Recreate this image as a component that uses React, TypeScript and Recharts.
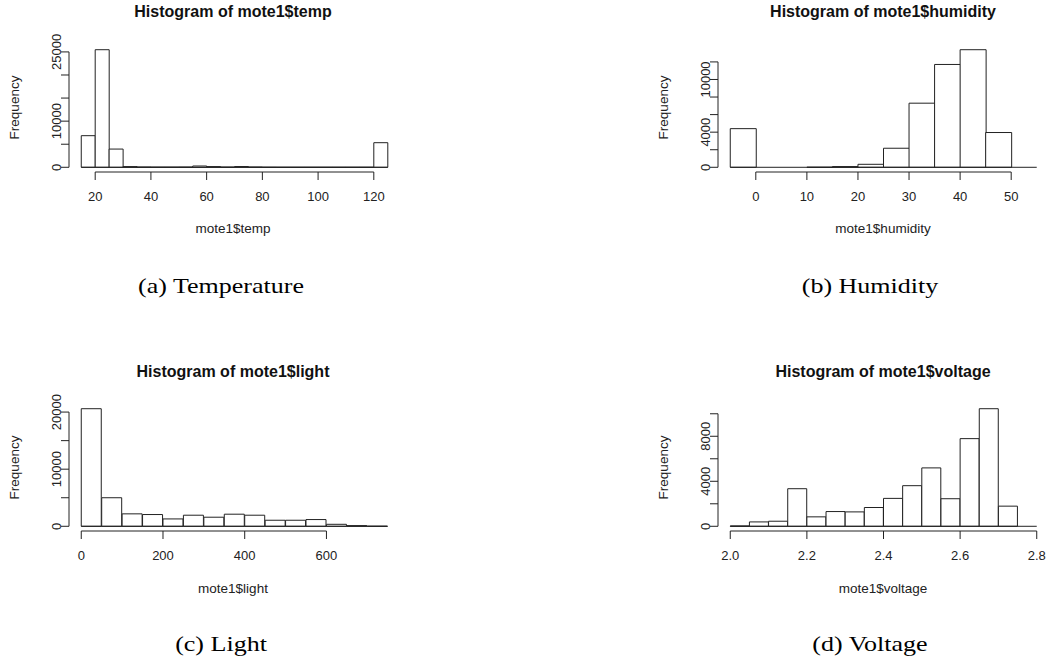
import { BarChart, Bar, XAxis, YAxis, ReferenceLine } from "recharts";

const INK = "#222";
const SANS = "'Liberation Sans', Arial, sans-serif";
const SERIF = "'Liberation Serif', 'Times New Roman', serif";

// (a) temperature, bins of 5 from 15 to 125
const tempMids = [17.5, 22.5, 27.5, 32.5, 37.5, 42.5, 47.5, 52.5, 57.5, 62.5, 67.5, 72.5, 77.5, 82.5, 87.5, 92.5, 97.5, 102.5, 107.5, 112.5, 117.5, 122.5];
const tempCounts = [6850, 25480, 3950, 150, 60, 40, 40, 50, 280, 150, 50, 160, 60, 20, 10, 10, 10, 10, 10, 10, 10, 5330];
const tempRange: [number, number] = [15, 125];
const tempXTicks = [20, 40, 60, 80, 100, 120];
const tempXLabels = ["20", "40", "60", "80", "100", "120"];
const tempYTicks = [0, 5000, 10000, 15000, 20000, 25000];
const tempYLabels = [0, 10000, 25000];

// (b) humidity, bins of 5 from -5 to 55
const humMids = [-2.5, 2.5, 7.5, 12.5, 17.5, 22.5, 27.5, 32.5, 37.5, 42.5, 47.5, 52.5];
const humCounts = [4400, 0, 0, 10, 80, 340, 2170, 7300, 11710, 13390, 3960, 0];
const humRange: [number, number] = [-5, 55];
const humXTicks = [0, 10, 20, 30, 40, 50];
const humXLabels = ["0", "10", "20", "30", "40", "50"];
const humYTicks = [0, 2000, 4000, 6000, 8000, 10000, 12000];
const humYLabels = [0, 4000, 10000];

// (c) light, bins of 50 from 0 to 750
const lightMids = [25, 75, 125, 175, 225, 275, 325, 375, 425, 475, 525, 575, 625, 675, 725];
const lightCounts = [20590, 5000, 2180, 2060, 1290, 1940, 1590, 2120, 1940, 1060, 1060, 1180, 350, 120, 10];
const lightRange: [number, number] = [0, 750];
const lightXTicks = [0, 200, 400, 600];
const lightXLabels = ["0", "200", "400", "600"];
const lightYTicks = [0, 5000, 10000, 15000, 20000];
const lightYLabels = [0, 10000, 20000];

// (d) voltage, bins of 0.05 from 2.0 to 2.8
const voltMids = [2.025, 2.075, 2.125, 2.175, 2.225, 2.275, 2.325, 2.375, 2.425, 2.475, 2.525, 2.575, 2.625, 2.675, 2.725, 2.775];
const voltCounts = [30, 390, 450, 3340, 840, 1310, 1280, 1670, 2480, 3610, 5190, 2450, 7790, 10450, 1790, 0];
const voltRange: [number, number] = [2.0, 2.8];
const voltXTicks = [2.0, 2.2, 2.4, 2.6, 2.8];
const voltXLabels = ["2.0", "2.2", "2.4", "2.6", "2.8"];
const voltYTicks = [0, 2000, 4000, 6000, 8000, 10000];
const voltYLabels = [0, 4000, 8000];

const titles = ["Histogram of mote1$temp", "Histogram of mote1$humidity", "Histogram of mote1$light", "Histogram of mote1$voltage"];
const xTitles = ["mote1$temp", "mote1$humidity", "mote1$light", "mote1$voltage"];
const captions = ["(a) Temperature", "(b) Humidity", "(c) Light", "(d) Voltage"];

type HistProps = {
  mids: number[];
  counts: number[];
  range: [number, number];
  xTicks: number[];
  xLabels: string[];
  yTicks: number[];
  yLabels: number[];
  left: number;
  top: number;
};

function Hist({ mids, counts, range, xTicks, xLabels, yTicks, yLabels, left, top }: HistProps) {
  const data = mids.map((m, i) => ({ mid: m, count: counts[i] }));
  const pad = (range[1] - range[0]) * 0.04;
  const xDom = [range[0] - pad, range[1] + pad];
  const yMax = Math.max(...counts);
  const yDom = [-0.04 * yMax, yMax * 1.04];
  const lastY = yTicks[yTicks.length - 1];

  return (
    <div style={{ position: "absolute", left, top }}>
      <BarChart
        width={410}
        height={215}
        data={data}
        margin={{ top: 45, right: 10, left: 0, bottom: 0 }}
        barCategoryGap={0}
        barGap={0}
      >
        <XAxis
          type="number"
          dataKey="mid"
          domain={xDom}
          ticks={xTicks}
          interval={0}
          allowDataOverflow
          axisLine={false}
          tickSize={8}
          tickMargin={0}
          tickLine={{ stroke: INK }}
          height={43}
          tick={(p: any) => {
            const i = xTicks.indexOf(p.payload.value);
            return (
              <text x={p.x} y={p.y + 21} textAnchor="middle" fontSize={13} fontFamily={SANS} fill={INK}>
                {xLabels[i]}
              </text>
            );
          }}
        />
        <YAxis
          type="number"
          domain={yDom}
          ticks={yTicks}
          interval={0}
          allowDataOverflow
          width={69}
          axisLine={false}
          tickSize={8}
          tickMargin={0}
          tickLine={{ stroke: INK }}
          tick={(p: any) => {
            if (!yLabels.includes(p.payload.value)) return <g />;
            return (
              <g transform={`translate(${p.x - 4.6},${p.y}) rotate(-90)`}>
                <text textAnchor="middle" dy="0.36em" fontSize={13} fontFamily={SANS} fill={INK}>
                  {p.payload.value}
                </text>
              </g>
            );
          }}
        />
        {/* R-style axis lines that only run between the outer ticks */}
        <ReferenceLine segment={[{ x: xDom[0], y: 0 }, { x: xDom[0], y: lastY }]} stroke={INK} ifOverflow="visible" />
        <ReferenceLine
          segment={[{ x: xTicks[0], y: yDom[0] }, { x: xTicks[xTicks.length - 1], y: yDom[0] }]}
          stroke={INK}
          ifOverflow="visible"
        />
        {/* baseline under empty bins */}
        <ReferenceLine segment={[{ x: range[0], y: 0 }, { x: range[1], y: 0 }]} stroke={INK} ifOverflow="visible" />
        <Bar dataKey="count" fill="#fff" stroke={INK} strokeWidth={1} isAnimationActive={false} />
      </BarChart>
    </div>
  );
}

const colX = [0, 649];
const rowY = [0, 359];

export default function App() {
  return (
    <div style={{ position: "absolute", left: 0, top: 0, width: 1048, height: 658, overflow: "hidden", background: "#fff" }}>
      <Hist mids={tempMids} counts={tempCounts} range={tempRange} xTicks={tempXTicks} xLabels={tempXLabels} yTicks={tempYTicks} yLabels={tempYLabels} left={colX[0]} top={rowY[0]} />
      <Hist mids={humMids} counts={humCounts} range={humRange} xTicks={humXTicks} xLabels={humXLabels} yTicks={humYTicks} yLabels={humYLabels} left={colX[1]} top={rowY[0]} />
      <Hist mids={lightMids} counts={lightCounts} range={lightRange} xTicks={lightXTicks} xLabels={lightXLabels} yTicks={lightYTicks} yLabels={lightYLabels} left={colX[0]} top={rowY[1]} />
      <Hist mids={voltMids} counts={voltCounts} range={voltRange} xTicks={voltXTicks} xLabels={voltXLabels} yTicks={voltYTicks} yLabels={voltYLabels} left={colX[1]} top={rowY[1]} />
      <svg width={1048} height={658} style={{ position: "absolute", left: 0, top: 0, pointerEvents: "none" }}>
        {titles.map((t, i) => {
          const cx = i % 2 === 0 ? 233 : 883;
          const dy = i < 2 ? 0 : 360;
          const fx = i % 2 === 0 ? 18.5 : 667.5;
          return (
            <g key={t}>
              <text x={cx} y={16.8 + dy} textAnchor="middle" fontSize={16} fontWeight="bold" fontFamily={SANS} fill="#111">
                {t}
              </text>
              <text x={cx} y={233 + dy} textAnchor="middle" fontSize={13.5} fontFamily={SANS} fill={INK}>
                {xTitles[i]}
              </text>
              <text transform={`translate(${fx},${107.5 + dy}) rotate(-90)`} textAnchor="middle" fontSize={13.5} fontFamily={SANS} fill={INK}>
                Frequency
              </text>
              <text
                transform={`translate(${i % 2 === 0 ? 221 : 870},${i < 2 ? 292.5 : 651}) scale(1.21,1)`}
                textAnchor="middle"
                fontSize={21.5}
                fontFamily={SERIF}
                fill="#000"
              >
                {captions[i]}
              </text>
            </g>
          );
        })}
      </svg>
    </div>
  );
}
